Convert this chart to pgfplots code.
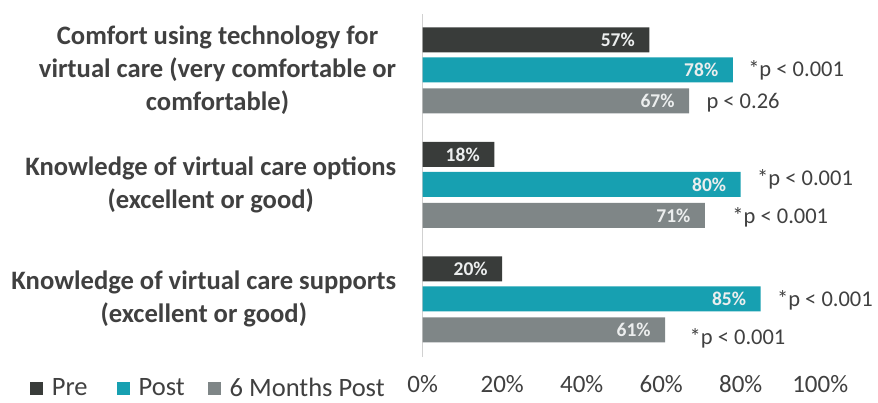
\documentclass[border=0pt]{standalone}
\usepackage{fontspec}
\setmainfont{Carlito}
\usepackage{pgfplots}
\pgfplotsset{compat=1.18}
\definecolor{cpre}{HTML}{393C3A}
\definecolor{cpost}{HTML}{17A0B1}
\definecolor{csix}{HTML}{7F8687}
\definecolor{ctext}{HTML}{404040}
\definecolor{cval}{HTML}{ECEEEE}
\begin{document}
\begin{tikzpicture}
\path[use as bounding box] (0,0) rectangle (878pt,402pt);
\begin{axis}[
  at={(422.7pt,45pt)}, anchor=south west,
  scale only axis, width=397.5pt, height=343.5pt,
  xmin=0, xmax=100, ymin=-0.507, ymax=2.493,
  clip=false,
  xbar, bar width=25pt,
  axis x line*=bottom, axis y line*=left,
  x axis line style={draw=none},
  y axis line style={draw=black!18, line width=0.8pt, -},
  xtick={0,20,40,60,80,100}, ytick={0,1,2},
  major tick length=0pt,
  /pgf/number format/assume math mode=true,
  xticklabel={\pgfmathprintnumber{\tick}\%},
  xticklabel style={font=\fontsize{25}{30}\selectfont, text=ctext, yshift=-15pt},
  yticklabels={{Knowledge of virtual care supports\\(excellent or good)},
               {Knowledge of virtual care options\\(excellent or good)},
               {Comfort using technology for\\virtual care (very comfortable or\\comfortable)}},
  yticklabel style={align=center, font=\fontsize{26.6}{33}\selectfont\bfseries, text=ctext, xshift=-23pt},
  point meta=x,
  nodes near coords={\pgfmathprintnumber{\pgfplotspointmeta}\%},
  nodes near coords style={anchor=east, xshift=-11pt, font=\fontsize{19.5}{24}\selectfont\bfseries, text=cval},
  legend columns=3,
  legend image code/.code={\fill[#1] (0pt,-6.5pt) rectangle (13pt,6.5pt); \path (20pt,0pt);},
  legend style={at={(0,0)}, anchor=west, xshift=-396pt, yshift=-31pt,
    draw=none, fill=none, font=\fontsize{26.5}{30}\selectfont, text=ctext,
    inner ysep=0pt, nodes={inner ysep=0pt},
    /tikz/every even column/.append style={column sep=21pt}},
]
\addplot[fill=cpre, draw=none, bar shift=30pt] coordinates {(20,0) (18,1) (57,2)};
\addlegendentry{Pre\hspace*{6pt}}
\addplot[fill=cpost, draw=none, bar shift=0pt] coordinates {(85,0) (80,1) (78,2)};
\addlegendentry{Post}
\addplot[fill=csix, draw=none, bar shift=-31pt] coordinates {(61,0) (71,1) (67,2)};
\addlegendentry{6 Months Post}
\begin{scope}[every node/.style={anchor=west, font=\fontsize{22.5}{27}\selectfont, text=ctext}]
\node at (axis cs:78,2) [xshift=12pt, yshift=0pt] {*p < 0.001};
\node at (axis cs:67,2) [xshift=14pt, yshift=-33pt] {p < 0.26};
\node at (axis cs:80,1) [xshift=13pt, yshift=5pt] {*p < 0.001};
\node at (axis cs:71,1) [xshift=24pt, yshift=-32.5pt] {*p < 0.001};
\node at (axis cs:85,0) [xshift=13pt, yshift=-1pt] {*p < 0.001};
\node at (axis cs:61,0) [xshift=21pt, yshift=-39pt] {*p < 0.001};
\end{scope}
\end{axis}
\end{tikzpicture}
\end{document}
